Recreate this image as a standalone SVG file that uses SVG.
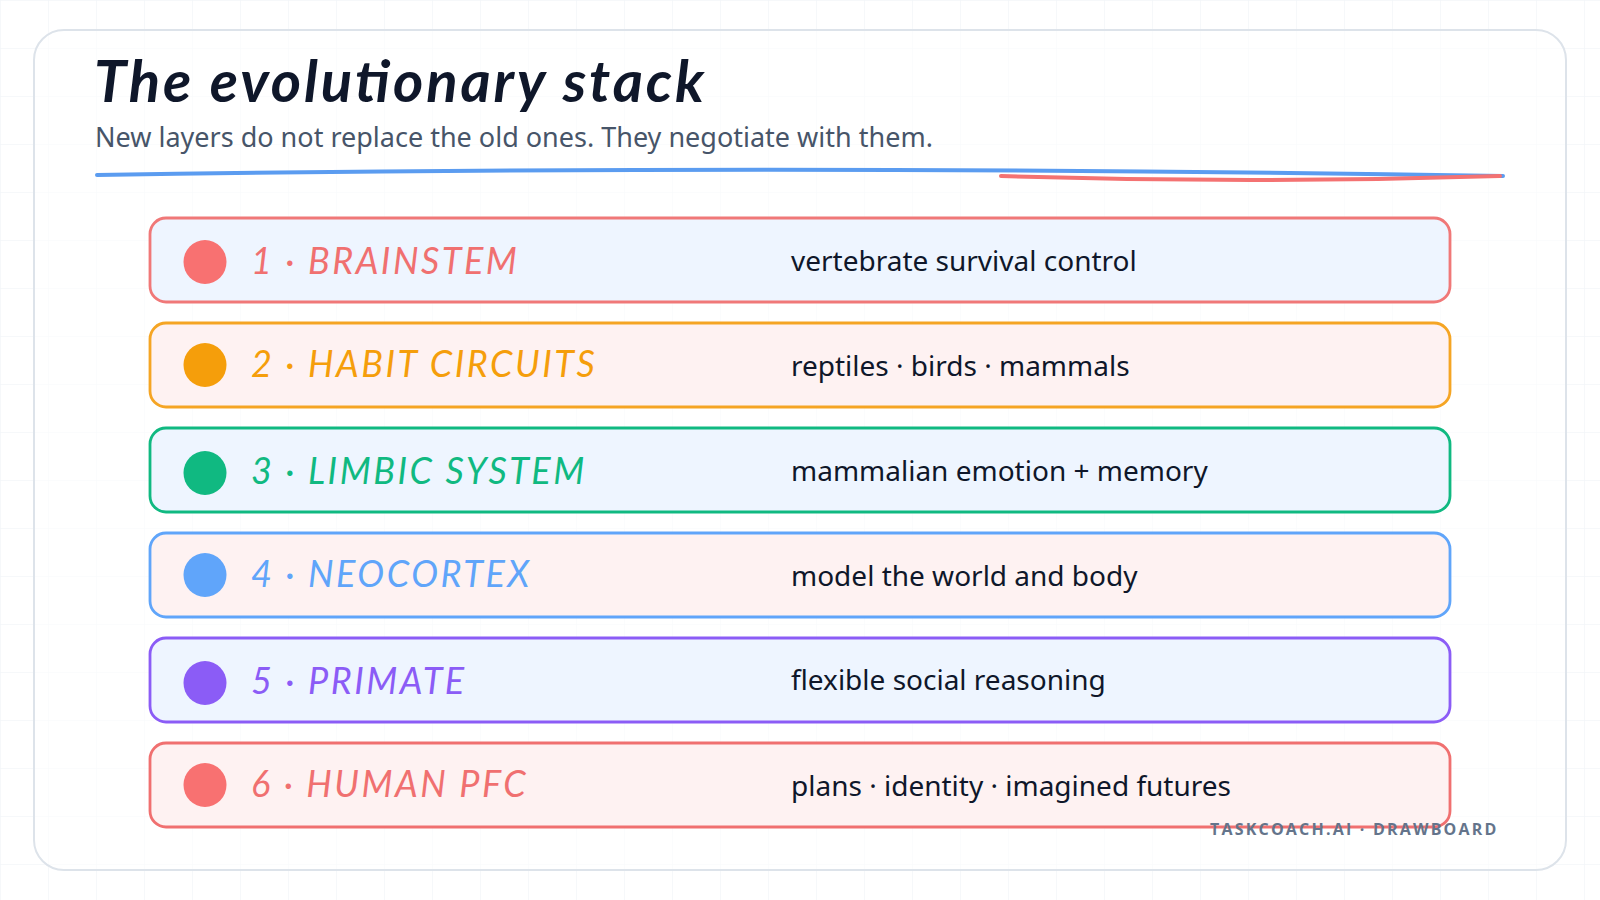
<svg xmlns="http://www.w3.org/2000/svg" width="1600" height="900" viewBox="0 0 1600 900">
<defs>
<pattern id="grid" width="48" height="48" patternUnits="userSpaceOnUse">
<path d="M48 0H0V48" fill="none" stroke="#eef2f6" stroke-width="1"/>
</pattern>
<style>
.title{font-family:Lato,"Noto Sans",sans-serif;font-weight:700;font-style:italic;font-size:58px;fill:#0f172a}
.sub{font-family:"Noto Sans","Open Sans",sans-serif;font-size:27px;fill:#475569}
.row{stroke-width:2.8}
.lbl{font-family:Lato,"Noto Sans",sans-serif;font-style:italic;font-weight:400;font-size:36px;letter-spacing:2.5px}
.desc{font-family:"Noto Sans","Open Sans",sans-serif;font-size:28px;fill:#0f172a}
.foot{font-family:"Open Sans","Noto Sans",sans-serif;font-weight:700;font-size:16px;letter-spacing:2.2px;fill:#64748b}
.blue{fill:#eef5ff}.pink{fill:#fef2f2}
</style>
</defs>
<rect width="1600" height="900" fill="#ffffff"/>
<rect width="1600" height="900" fill="url(#grid)"/>
<rect x="34" y="30" width="1532" height="840" rx="30" fill="#ffffff" fill-opacity="0.5" stroke="#dde3ea" stroke-width="2"/>

<g id="header">
<text class="title" x="94" y="102" textLength="610" lengthAdjust="spacing">The evolutionary stack</text>
<text class="sub" x="95" y="147">New layers do not replace the old ones. They negotiate with them.</text>
<path d="M97 175 Q800 164 1503 176" fill="none" stroke="#5b9cf0" stroke-width="4" stroke-linecap="round"/>
<path d="M1001 176 Q1250 184 1500 176" fill="none" stroke="#f47272" stroke-width="4" stroke-linecap="round"/>
</g>

<g id="connectors"></g>

<g id="layer1">
<rect class="row blue" x="150" y="218" width="1300" height="84" rx="16" stroke="#f07878"/>
<ellipse cx="205" cy="262" rx="21.5" ry="22" fill="#f87171"/>
<text class="lbl" x="251" y="274" fill="#f07070">1 · BRAINSTEM</text>
<text class="desc" x="791" y="271">vertebrate survival control</text>
</g>
<g id="layer2">
<rect class="row pink" x="150" y="323" width="1300" height="84" rx="16" stroke="#f5a524"/>
<ellipse cx="205" cy="365" rx="21.5" ry="22" fill="#f59e0b"/>
<text class="lbl" x="251" y="377" fill="#f59e0b">2 · HABIT CIRCUITS</text>
<text class="desc" x="791" y="376">reptiles · birds · mammals</text>
</g>
<g id="layer3">
<rect class="row blue" x="150" y="428" width="1300" height="84" rx="16" stroke="#10b981"/>
<ellipse cx="205" cy="473" rx="21.5" ry="22" fill="#10b981"/>
<text class="lbl" x="251" y="484" fill="#10b981">3 · LIMBIC SYSTEM</text>
<text class="desc" x="791" y="481">mammalian emotion + memory</text>
</g>
<g id="layer4">
<rect class="row pink" x="150" y="533" width="1300" height="84" rx="16" stroke="#60a5fa"/>
<ellipse cx="205" cy="575" rx="21.5" ry="22" fill="#60a5fa"/>
<text class="lbl" x="251" y="587" fill="#60a5fa">4 · NEOCORTEX</text>
<text class="desc" x="791" y="586">model the world and body</text>
</g>
<g id="layer5">
<rect class="row blue" x="150" y="638" width="1300" height="84" rx="16" stroke="#8b5cf6"/>
<ellipse cx="205" cy="683" rx="21.5" ry="22" fill="#8b5cf6"/>
<text class="lbl" x="251" y="694" fill="#8b5cf6">5 · PRIMATE</text>
<text class="desc" x="791" y="690">flexible social reasoning</text>
</g>
<g id="layer6">
<rect class="row pink" x="150" y="743" width="1300" height="84" rx="16" stroke="#f07070"/>
<ellipse cx="205" cy="785" rx="21.5" ry="22" fill="#f87171"/>
<text class="lbl" x="251" y="797" fill="#f07070">6 · HUMAN PFC</text>
<text class="desc" x="791" y="796">plans · identity · imagined futures</text>
</g>

<text class="foot" x="1210" y="835">TASKCOACH.AI · DRAWBOARD</text>
</svg>
